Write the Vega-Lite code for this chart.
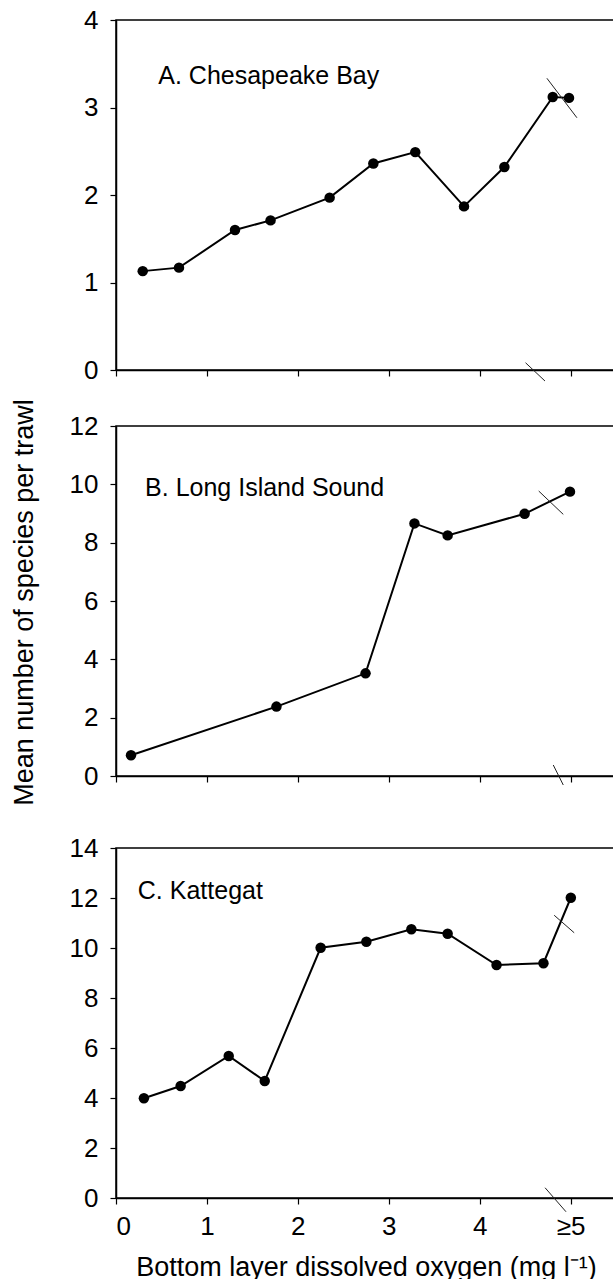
{
  "$schema": "https://vega.github.io/schema/vega-lite/v6.json",
  "padding": {"left": 9, "top": 6, "right": 0, "bottom": 0},
  "background": "white",
  "spacing": 13,
  "config": {
    "font": "Liberation Sans",
    "view": {"stroke": "black", "strokeWidth": 1.5},
    "axis": {
      "grid": false,
      "domainColor": "black",
      "domainWidth": 1.5,
      "tickColor": "black",
      "tickWidth": 1.2,
      "tickSize": 6,
      "labelColor": "black",
      "labelFont": "Liberation Sans",
      "labelFontSize": 26,
      "titleColor": "black",
      "titleFont": "Liberation Sans",
      "titleFontSize": 27,
      "titleFontWeight": "normal",
      "format": "d"
    }
  },
  "datasets": {
    "a_pts": [
      {"x": 0.294, "y": 1.13}, {"x": 0.693, "y": 1.17}, {"x": 1.309, "y": 1.60}, {"x": 1.700, "y": 1.71},
      {"x": 2.350, "y": 1.97}, {"x": 2.831, "y": 2.36}, {"x": 3.292, "y": 2.49}, {"x": 3.828, "y": 1.87},
      {"x": 4.272, "y": 2.32}, {"x": 4.804, "y": 3.12}, {"x": 4.983, "y": 3.11}
    ],
    "b_pts": [
      {"x": 0.165, "y": 0.71}, {"x": 1.765, "y": 2.38}, {"x": 2.745, "y": 3.52}, {"x": 3.283, "y": 8.66},
      {"x": 3.648, "y": 8.25}, {"x": 4.495, "y": 8.99}, {"x": 4.994, "y": 9.75}
    ],
    "c_pts": [
      {"x": 0.307, "y": 3.99}, {"x": 0.711, "y": 4.48}, {"x": 1.240, "y": 5.68}, {"x": 1.636, "y": 4.68},
      {"x": 2.251, "y": 10.01}, {"x": 2.754, "y": 10.25}, {"x": 3.249, "y": 10.75}, {"x": 3.648, "y": 10.57},
      {"x": 4.186, "y": 9.32}, {"x": 4.702, "y": 9.39}, {"x": 5.003, "y": 12.01}
    ],
    "a_breaks": [
      {"x": 4.505, "x2": 4.719, "y": 0.083, "y2": -0.126},
      {"x": 4.74, "x2": 5.07, "y": 3.334, "y2": 2.883}
    ],
    "b_breaks": [
      {"x": 4.81, "x2": 4.92, "y": 0.377, "y2": -0.309},
      {"x": 4.65, "x2": 4.92, "y": 9.77, "y2": 8.97}
    ],
    "c_breaks": [
      {"x": 4.72, "x2": 4.95, "y": 0.41, "y2": -0.55},
      {"x": 4.82, "x2": 5.04, "y": 11.31, "y2": 10.61}
    ],
    "a_label": [{"x": 0.465, "y": 3.265, "label": "A. Chesapeake Bay"}],
    "b_label": [{"x": 0.32, "y": 9.6, "label": "B. Long Island Sound"}],
    "c_label": [{"x": 0.24, "y": 11.97, "label": "C. Kattegat"}]
  },
  "vconcat": [
    {
      "width": 500,
      "height": 350,
      "layer": [
        {
          "data": {"name": "a_pts"},
          "mark": {"type": "line", "color": "black", "strokeWidth": 2},
          "encoding": {
            "x": {"field": "x", "type": "quantitative", "scale": {"domain": [0, 5.5], "nice": false},
                  "axis": {"values": [0, 1, 2, 3, 4, 5], "labels": false, "title": null}},
            "y": {"field": "y", "type": "quantitative", "scale": {"domain": [0, 4], "nice": false},
                  "axis": {"values": [0, 1, 2, 3, 4], "labelPadding": 12, "title": null}}
          }
        },
        {
          "data": {"name": "a_pts"},
          "mark": {"type": "point", "filled": true, "color": "black", "size": 110, "opacity": 1},
          "encoding": {
            "x": {"field": "x", "type": "quantitative"},
            "y": {"field": "y", "type": "quantitative"}
          }
        },
        {
          "data": {"name": "a_breaks"},
          "mark": {"type": "rule", "color": "#222", "strokeWidth": 1},
          "encoding": {
            "x": {"field": "x", "type": "quantitative"},
            "x2": {"field": "x2"},
            "y": {"field": "y", "type": "quantitative"},
            "y2": {"field": "y2"}
          }
        },
        {
          "data": {"name": "a_label"},
          "mark": {"type": "text", "align": "left", "baseline": "alphabetic", "fontSize": 25, "color": "black", "font": "Liberation Sans"},
          "encoding": {
            "x": {"field": "x", "type": "quantitative"},
            "y": {"field": "y", "type": "quantitative"},
            "text": {"field": "label"}
          }
        }
      ]
    },
    {
      "width": 500,
      "height": 350,
      "layer": [
        {
          "data": {"name": "b_pts"},
          "mark": {"type": "line", "color": "black", "strokeWidth": 2},
          "encoding": {
            "x": {"field": "x", "type": "quantitative", "scale": {"domain": [0, 5.5], "nice": false},
                  "axis": {"values": [0, 1, 2, 3, 4, 5], "labels": false, "title": null}},
            "y": {"field": "y", "type": "quantitative", "scale": {"domain": [0, 12], "nice": false},
                  "axis": {"values": [0, 2, 4, 6, 8, 10, 12], "labelPadding": 12,
                           "title": "Mean number of species per trawl",
                           "titleAngle": 270, "titleAlign": "center", "titleBaseline": "alphabetic",
                           "titleX": -84, "titleY": 176}}
          }
        },
        {
          "data": {"name": "b_pts"},
          "mark": {"type": "point", "filled": true, "color": "black", "size": 110, "opacity": 1},
          "encoding": {
            "x": {"field": "x", "type": "quantitative"},
            "y": {"field": "y", "type": "quantitative"}
          }
        },
        {
          "data": {"name": "b_breaks"},
          "mark": {"type": "rule", "color": "#222", "strokeWidth": 1},
          "encoding": {
            "x": {"field": "x", "type": "quantitative"},
            "x2": {"field": "x2"},
            "y": {"field": "y", "type": "quantitative"},
            "y2": {"field": "y2"}
          }
        },
        {
          "data": {"name": "b_label"},
          "mark": {"type": "text", "align": "left", "baseline": "alphabetic", "fontSize": 25, "color": "black", "font": "Liberation Sans"},
          "encoding": {
            "x": {"field": "x", "type": "quantitative"},
            "y": {"field": "y", "type": "quantitative"},
            "text": {"field": "label"}
          }
        }
      ]
    },
    {
      "width": 500,
      "height": 350,
      "title": {"text": " ", "fontSize": 10, "offset": 4, "anchor": "start"},
      "layer": [
        {
          "data": {"name": "c_pts"},
          "mark": {"type": "line", "color": "black", "strokeWidth": 2},
          "encoding": {
            "x": {"field": "x", "type": "quantitative", "scale": {"domain": [0, 5.5], "nice": false},
                  "axis": {"values": [0, 1, 2, 3, 4, 5], "labelPadding": 9,
                           "labelExpr": "datum.value == 5 ? '≥5' : datum.label",
                           "title": "Bottom layer dissolved oxygen (mg l⁻¹)",
                           "titleAlign": "center", "titleBaseline": "alphabetic",
                           "titleX": 250, "titleY": 77}},
            "y": {"field": "y", "type": "quantitative", "scale": {"domain": [0, 14], "nice": false},
                  "axis": {"values": [0, 2, 4, 6, 8, 10, 12, 14], "labelPadding": 12, "title": null}}
          }
        },
        {
          "data": {"name": "c_pts"},
          "mark": {"type": "point", "filled": true, "color": "black", "size": 110, "opacity": 1},
          "encoding": {
            "x": {"field": "x", "type": "quantitative"},
            "y": {"field": "y", "type": "quantitative"}
          }
        },
        {
          "data": {"name": "c_breaks"},
          "mark": {"type": "rule", "color": "#222", "strokeWidth": 1},
          "encoding": {
            "x": {"field": "x", "type": "quantitative"},
            "x2": {"field": "x2"},
            "y": {"field": "y", "type": "quantitative"},
            "y2": {"field": "y2"}
          }
        },
        {
          "data": {"name": "c_label"},
          "mark": {"type": "text", "align": "left", "baseline": "alphabetic", "fontSize": 25, "color": "black", "font": "Liberation Sans"},
          "encoding": {
            "x": {"field": "x", "type": "quantitative"},
            "y": {"field": "y", "type": "quantitative"},
            "text": {"field": "label"}
          }
        }
      ]
    }
  ]
}
